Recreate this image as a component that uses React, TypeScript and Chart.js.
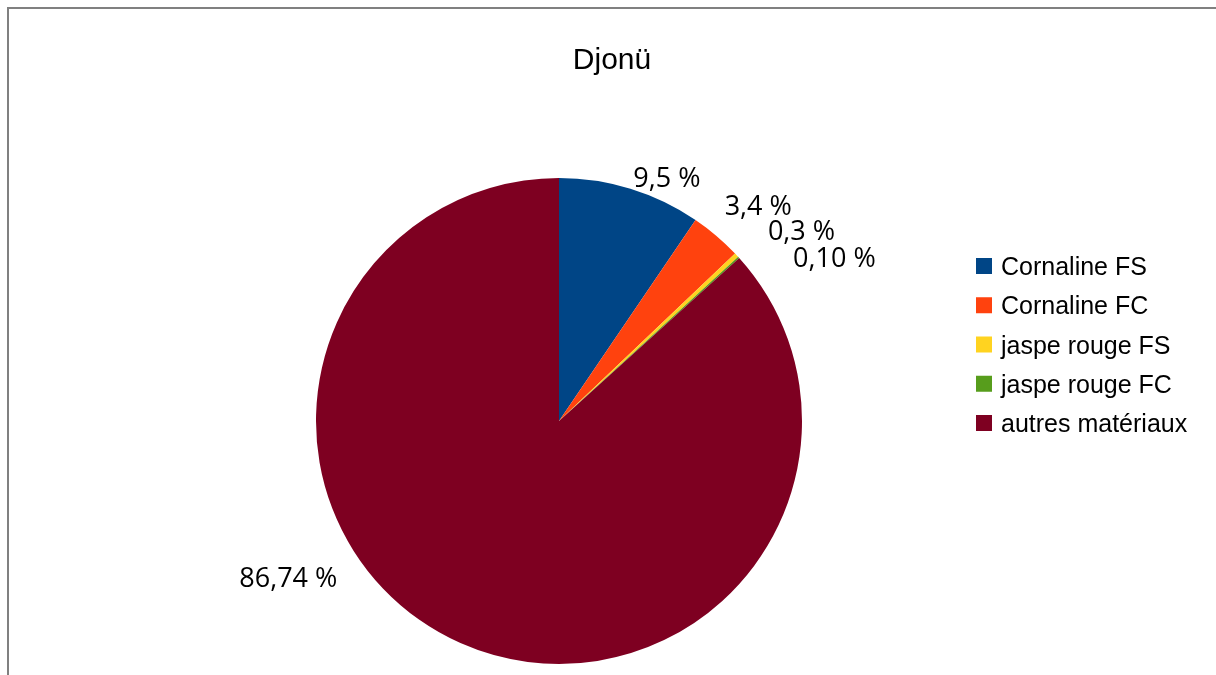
import React, { useEffect, useRef } from "react";
import { Chart, registerables } from "chart.js";

Chart.register(...registerables);

const title = "Djonü";
const categories = ["Cornaline FS", "Cornaline FC", "jaspe rouge FS", "jaspe rouge FC", "autres matériaux"];
const values = [9.5, 3.4, 0.3, 0.1, 86.74];
const percentLabels = ["9,5 %", "3,4 %", "0,3 %", "0,10 %", "86,74 %"];
const colors = ["#004586", "#ff420e", "#ffd320", "#579d1c", "#7e0021"];

// label nudges (text placement tweaks, px) relative to the arc's outside anchor
const labelNudges = [
  [0, 0],
  [2, -21],
  [24, -16.5],
  [47, 8],
  [-119, -73],
];

const FONT = "'Liberation Sans', Arial, sans-serif";
const LABEL_FONT = "'Open Sans', 'Noto Sans', sans-serif";

const overlayPlugin = {
  id: "overlay",
  afterDraw(chart: any) {
    const ctx = chart.ctx as CanvasRenderingContext2D;
    ctx.save();
    // title
    ctx.fillStyle = "#000000";
    ctx.font = `30px ${FONT}`;
    ctx.textAlign = "center";
    ctx.textBaseline = "alphabetic";
    ctx.fillText(title, 612, 69);

    // data labels
    const meta = chart.getDatasetMeta(0);
    ctx.font = `27px ${LABEL_FONT}`;
    meta.data.forEach((arc: any, i: number) => {
      const p = arc.getProps(["x", "y", "startAngle", "endAngle", "outerRadius"], true);
      const mid = (p.startAngle + p.endAngle) / 2;
      const d = p.outerRadius + 10;
      const ax = p.x + Math.cos(mid) * d;
      const ay = p.y + Math.sin(mid) * d;
      const right = Math.cos(mid) >= 0;
      const n = labelNudges[i] || [0, 0];
      ctx.textAlign = right ? "left" : "right";
      ctx.textBaseline = "alphabetic";
      ctx.fillText(percentLabels[i], ax + n[0], ay + 8 + n[1]);
    });

    // legend
    const labels = chart.data.labels as string[];
    const bg = chart.data.datasets[0].backgroundColor as string[];
    ctx.font = `25px ${FONT}`;
    ctx.textAlign = "left";
    labels.forEach((lab, i) => {
      const cy = 266 + i * 39.25;
      ctx.fillStyle = bg[i];
      ctx.fillRect(976, cy - 8, 16, 16);
      ctx.fillStyle = "#000000";
      ctx.fillText(lab, 1001, cy + 9);
    });
    ctx.restore();
  },
};

export default function App() {
  const ref = useRef<HTMLCanvasElement | null>(null);
  useEffect(() => {
    document.body.style.overflow = "hidden";
    const canvas = ref.current!;
    const chart = new Chart(canvas, {
      type: "pie",
      data: {
        labels: categories,
        datasets: [
          {
            data: values,
            backgroundColor: colors,
            borderWidth: 0,
          },
        ],
      },
      options: {
        responsive: false,
        animation: false,
        devicePixelRatio: 1,
        layout: { padding: { left: 316, right: 414, top: 178, bottom: 11 } },
        plugins: {
          legend: { display: false },
          title: { display: false },
          tooltip: { enabled: false },
        },
        events: [],
      },
      plugins: [overlayPlugin],
    });
    return () => chart.destroy();
  }, []);

  return (
    <div>
      <canvas
        ref={ref}
        width={1216}
        height={675}
        style={{ position: "fixed", left: 0, top: 0, width: 1216, height: 675, background: "#ffffff" }}
      />
      <div
        style={{
          position: "fixed",
          left: 7,
          top: 7,
          width: 1216,
          height: 675,
          borderTop: "2px solid #808080",
          borderLeft: "2px solid #808080",
          boxSizing: "border-box",
          pointerEvents: "none",
        }}
      />
    </div>
  );
}
